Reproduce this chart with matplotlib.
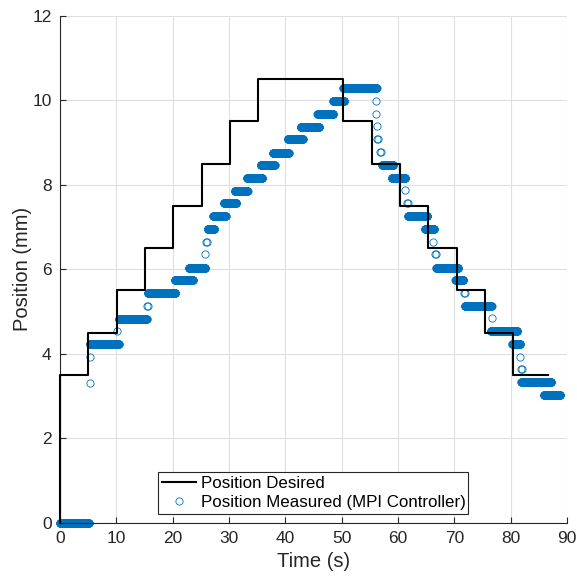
import numpy as np
import matplotlib
matplotlib.use("Agg")
import matplotlib.pyplot as plt

# ---- Desired position (step reference) ----
desired_t = [0.0, 0.0, 5.03, 10.06, 15.09, 20.12, 25.15, 30.18, 35.21,
             50.3, 55.33, 60.36, 65.39, 70.42, 75.45, 80.48, 86.6]
desired_y = [0.0, 3.5, 4.5, 5.5, 6.5, 7.5, 8.5, 9.5, 10.5,
             9.5, 8.5, 7.5, 6.5, 5.5, 4.5, 3.5, 3.5]

# ---- Measured position: held plateaus (start, end, level) ----
plateau_start = [0.0, 5.3, 10.45, 15.6, 20.4, 22.9, 26.2, 27.2, 29.1, 31.0,
                 33.2, 35.6, 37.8, 40.4, 42.7, 45.7, 48.5, 50.3,
                 57.2, 58.9, 61.8, 64.8, 66.8, 70.2, 71.9, 76.5, 80.3, 81.9, 85.9]
plateau_end = [5.1, 10.45, 15.4, 20.5, 23.6, 25.8, 27.4, 29.4, 31.3, 33.3,
               35.9, 38.1, 40.6, 43.1, 46.0, 48.5, 50.5, 56.2,
               59.2, 61.3, 65.2, 66.4, 70.7, 71.6, 76.6, 81.2, 81.7, 87.2, 88.8]
plateau_level = [0.0, 4.23, 4.83, 5.44, 5.75, 6.04, 6.95, 7.25, 7.57, 7.86,
                 8.16, 8.47, 8.76, 9.07, 9.37, 9.68, 9.99, 10.29,
                 8.47, 8.16, 7.27, 6.95, 6.04, 5.74, 5.14, 4.54, 4.23, 3.33, 3.02]

# ---- Measured position: transition samples ----
trans_t = [5.3, 5.3, 10.2, 15.45, 15.6, 25.7, 25.95, 26.1,
           56.1, 56.1, 56.2, 56.35, 56.45, 56.8, 57.0,
           61.25, 61.6, 61.8, 66.3, 66.5, 66.7, 71.7, 71.9, 76.6, 81.7, 81.8, 82.0]
trans_y = [3.32, 3.92, 4.53, 5.14, 5.14, 6.36, 6.64, 6.64,
           9.97, 9.68, 9.38, 9.07, 9.07, 8.77, 8.77,
           7.87, 7.56, 7.56, 6.64, 6.35, 6.35, 5.44, 5.44, 4.84, 3.93, 3.63, 3.63]

sample_dt = 0.02
meas_t, meas_y = [], []
for s, e, lv in zip(plateau_start, plateau_end, plateau_level):
    tt = np.arange(s, e + 1e-9, sample_dt)
    meas_t.append(tt)
    meas_y.append(np.full_like(tt, lv))
meas_t.append(np.array(trans_t))
meas_y.append(np.array(trans_y))
meas_t = np.concatenate(meas_t)
meas_y = np.concatenate(meas_y)

plt.rcParams['font.family'] = ['Liberation Sans', 'DejaVu Sans']
dark = '#262626'
blue = '#0072BD'

fig = plt.figure(figsize=(5.77, 5.77), dpi=100)
ax = fig.add_axes([60/577, 54/577, 507/577, 507.5/577])

ax.step(desired_t, desired_y, where='post', color='black', lw=1.5,
        label='Position Desired', zorder=3, clip_on=False)
ax.plot(meas_t, meas_y, linestyle='none', marker='o', markersize=5.2,
        markerfacecolor='none', markeredgecolor=blue, markeredgewidth=0.6,
        label='Position Measured (MPI Controller)', zorder=2, clip_on=False)

ax.set_xlim(0, 90)
ax.set_ylim(0, 12)
ax.set_xticks(np.arange(0, 91, 10))
ax.set_yticks(np.arange(0, 13, 2))
ax.grid(True, color='#dfdfdf', lw=0.8)
ax.set_axisbelow(True)
for sp in ['top', 'right']:
    ax.spines[sp].set_visible(False)
for sp in ['left', 'bottom']:
    ax.spines[sp].set_color(dark)
    ax.spines[sp].set_linewidth(0.8)
ax.tick_params(direction='in', length=4, width=0.8, colors=dark,
               labelsize=12.5, pad=6)
ax.set_xlabel('Time (s)', fontsize=14.5, color=dark, labelpad=4)
ax.set_ylabel('Position (mm)', fontsize=14.5, color=dark, labelpad=0)

leg = ax.legend(loc='lower left', bbox_to_anchor=(0.193, 0.018, 0.612, 0.092),
                mode='expand', fancybox=False, framealpha=1, edgecolor=dark,
                fontsize=12.2, handlelength=2.0, handletextpad=0.3,
                borderpad=0.25, labelspacing=0.2, borderaxespad=0)
leg.get_frame().set_linewidth(0.8)
leg.set_zorder(5)

fig.savefig('out.png', dpi=100)
